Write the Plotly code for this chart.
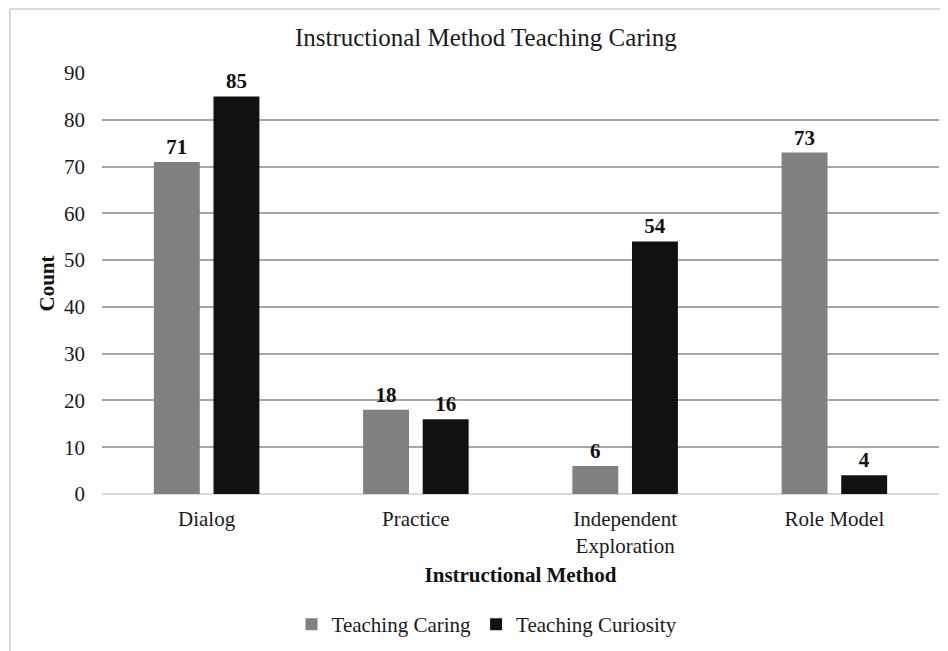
import plotly.graph_objects as go

categories = ["Dialog", "Practice", "Independent<br>Exploration", "Role Model"]
caring = [71, 18, 6, 73]
curiosity = [85, 16, 54, 4]
y_ticks = [0, 10, 20, 30, 40, 50, 60, 70, 80, 90]

FONT = "Liberation Serif, Times New Roman, serif"
TXT = "#1a1a1a"

fig = go.Figure()
fig.add_trace(go.Bar(
    x=categories, y=caring, name="Teaching Caring",
    marker=dict(color="#808080", line=dict(width=0)),
    text=caring, textposition="outside", cliponaxis=False,
    textfont=dict(family=FONT, size=21, color="#111111", weight="bold"),
))
fig.add_trace(go.Bar(
    x=categories, y=curiosity, name="Teaching Curiosity",
    marker=dict(color="#111111", line=dict(width=0)),
    text=curiosity, textposition="outside", cliponaxis=False,
    textfont=dict(family=FONT, size=21, color="#111111", weight="bold"),
))

# plot area in figure px: x 94..931, y 65..486
fig.update_layout(
    width=948, height=651,
    margin=dict(l=94, r=17, t=65, b=165),
    paper_bgcolor="white", plot_bgcolor="white",
    font=dict(family=FONT, size=21, color=TXT),
    title=dict(text="Instructional Method Teaching Caring", x=0.504, xanchor="center",
               y=0.955, yanchor="middle", font=dict(family=FONT, size=25, color=TXT)),
    barmode="group", bargap=0.43, bargroupgap=0.23,
    showlegend=True,
    legend=dict(orientation="h", x=0.46, xanchor="center", y=-0.31, yanchor="middle",
                font=dict(family=FONT, size=21, color=TXT), itemwidth=30,
                traceorder="normal"),
    xaxis=dict(showgrid=False, showline=False, ticks="", tickfont=dict(size=21),
               ticklabelstandoff=10,
               title=dict(text="<b>Instructional Method</b>", font=dict(family=FONT, size=21, color="#111111"),
                          standoff=10)),
    yaxis=dict(range=[0, 90], tickvals=y_ticks, showgrid=True, gridcolor="#a6a6a6", gridwidth=2,
               zeroline=True, zerolinecolor="#d9d9d9", zerolinewidth=2, showline=False,
               tickfont=dict(size=21), ticks="", ticklabelstandoff=16,
               title=dict(text="<b>Count</b>", font=dict(family=FONT, size=21, color="#111111"),
                          standoff=3)),
    shapes=[
        dict(type="line", xref="paper", yref="paper", x0=-0.1099, x1=1.2, y0=1.152, y1=1.152,
             line=dict(color="#d9d9d9", width=2)),
        dict(type="line", xref="paper", yref="paper", x0=-0.1099, x1=-0.1099, y0=1.152, y1=-0.5,
             line=dict(color="#d9d9d9", width=2)),
    ],
)

fig.write_html("out.html")
